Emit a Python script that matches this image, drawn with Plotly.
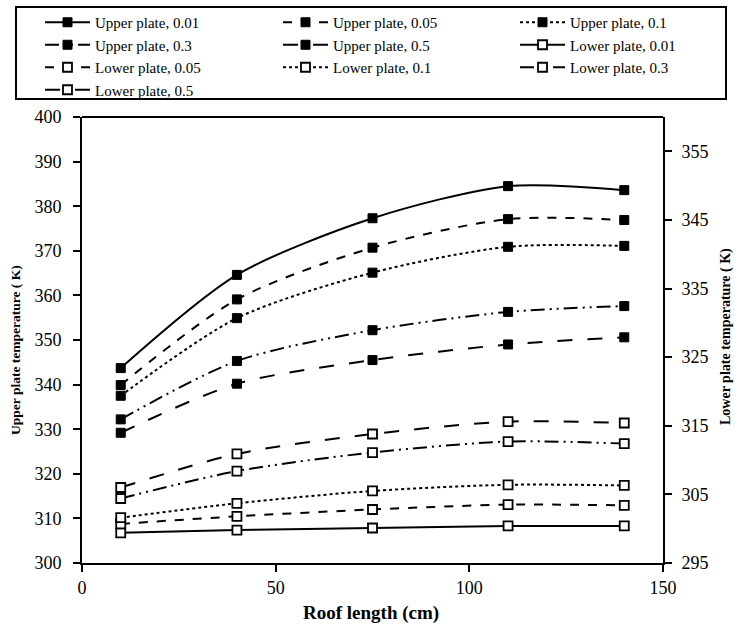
import plotly.graph_objects as go

x_cm = [10, 40, 75, 110, 140]

upper_names = ["Upper plate, 0.01", "Upper plate, 0.05", "Upper plate, 0.1", "Upper plate, 0.3", "Upper plate, 0.5"]
upper_001 = [343.7, 364.6, 377.3, 384.5, 383.6]
upper_005 = [339.9, 359.1, 370.7, 377.1, 376.9]
upper_01 = [337.5, 354.9, 365.1, 370.9, 371.1]
upper_03 = [332.2, 345.3, 352.2, 356.3, 357.6]
upper_05 = [329.2, 340.2, 345.5, 349.0, 350.6]

lower_names = ["Lower plate, 0.01", "Lower plate, 0.05", "Lower plate, 0.1", "Lower plate, 0.3", "Lower plate, 0.5"]
lower_001 = [299.4, 299.8, 300.1, 300.4, 300.4]
lower_005 = [300.7, 301.8, 302.8, 303.5, 303.4]
lower_01 = [301.6, 303.7, 305.5, 306.4, 306.3]
lower_03 = [304.4, 308.4, 311.1, 312.7, 312.4]
lower_05 = [306.0, 310.9, 313.8, 315.6, 315.4]

x_title = "Roof length (cm)"
y_left_title = "Upper plate temperature ( K)"
y_right_title = "Lower plate temperature ( K)"

dashes = ["solid", "dash", "dot", "14px,5px,2px,5px,2px,5px", "longdash"]
# legend column (row-wise ordering of the reference legend, 3 columns)
upper_legend = ["legend", "legend2", "legend3", "legend", "legend2"]
lower_legend = ["legend3", "legend", "legend2", "legend3", "legend"]
FONT = "Liberation Serif"

W, H = 735, 626
ML, MR, MT, MB = 82, 72, 117, 63
PW, PH = W - ML - MR, H - MT - MB

def px_to_paper_x(px):
    return (px - ML) / PW

def px_to_paper_y(py):
    return (H - MB - py) / PH

fig = go.Figure()
for name, ys, d, lg in zip(upper_names, [upper_001, upper_005, upper_01, upper_03, upper_05], dashes, upper_legend):
    fig.add_trace(go.Scatter(
        x=x_cm, y=ys, name=name, mode="lines+markers", legend=lg,
        line=dict(color="black", width=2, dash=d, shape="spline", smoothing=0.8),
        marker=dict(symbol="square", size=9, color="black", line=dict(color="black", width=1)),
        yaxis="y"))
for name, ys, d, lg in zip(lower_names, [lower_001, lower_005, lower_01, lower_03, lower_05], dashes, lower_legend):
    fig.add_trace(go.Scatter(
        x=x_cm, y=ys, name=name, mode="lines+markers", legend=lg,
        line=dict(color="black", width=2, dash=d, shape="spline", smoothing=0.8),
        marker=dict(symbol="square", size=9, color="white", line=dict(color="black", width=1.8)),
        yaxis="y2"))

axis_common = dict(showgrid=False, zeroline=False, showline=True, linecolor="black", linewidth=2,
                   ticks="outside", ticklen=7, tickwidth=2, tickcolor="black",
                   tickfont=dict(family=FONT, size=18, color="black"))

def legend_col(xpx):
    return dict(orientation="v", xref="container", yref="container",
                x=xpx / W, xanchor="left", y=1 - 6 / H, yanchor="top",
                borderwidth=0, bgcolor="rgba(0,0,0,0)",
                font=dict(family=FONT, size=15, color="black"),
                itemwidth=45, tracegroupgap=0)

fig.update_layout(
    width=W, height=H,
    margin=dict(l=ML, r=MR, t=MT, b=MB, autoexpand=False),
    paper_bgcolor="white", plot_bgcolor="white",
    font=dict(family=FONT, color="black"),
    xaxis=dict(range=[0, 150], tickvals=[0, 50, 100, 150], ticklabelstandoff=0,
               **axis_common),
    yaxis=dict(range=[300, 400], dtick=10, tick0=300, ticklabelstandoff=8,
               **axis_common),
    yaxis2=dict(range=[295, 360], dtick=10, tick0=295, overlaying="y", side="right", ticklabelstandoff=6,
                **axis_common),
    legend=legend_col(40),
    legend2=legend_col(278),
    legend3=legend_col(515),
    showlegend=True,
    annotations=[
        dict(text=f"<b>{x_title}</b>", xref="paper", yref="paper",
             x=px_to_paper_x(371), y=px_to_paper_y(613), xanchor="center", yanchor="middle",
             showarrow=False, font=dict(family=FONT, size=19, color="black")),
        dict(text=f"<b>{y_left_title}</b>", xref="paper", yref="paper",
             x=px_to_paper_x(15), y=px_to_paper_y(350), xanchor="center", yanchor="middle",
             textangle=-90, showarrow=False, font=dict(family=FONT, size=13.5, color="black")),
        dict(text=f"<b>{y_right_title}</b>", xref="paper", yref="paper",
             x=px_to_paper_x(726), y=px_to_paper_y(337), xanchor="center", yanchor="middle",
             textangle=-90, showarrow=False, font=dict(family=FONT, size=14, color="black")),
    ],
    shapes=[
        dict(type="line", xref="paper", yref="paper", x0=0, x1=1, y0=1, y1=1,
             line=dict(color="black", width=2)),
        dict(type="rect", xref="paper", yref="paper",
             x0=px_to_paper_x(16), x1=px_to_paper_x(726), y0=px_to_paper_y(99), y1=px_to_paper_y(7),
             line=dict(color="black", width=2), fillcolor="rgba(0,0,0,0)"),
    ],
)

fig.write_html("out.html")
